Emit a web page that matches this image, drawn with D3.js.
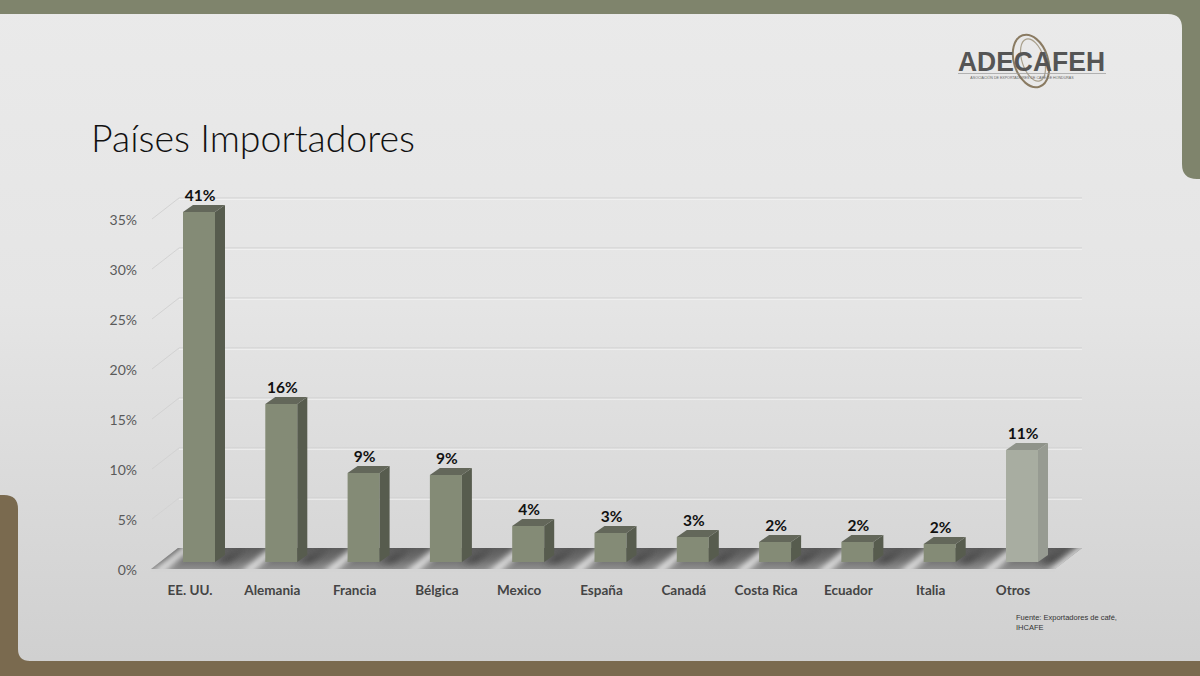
<!DOCTYPE html>
<html><head><meta charset="utf-8">
<script src="https://cdn.jsdelivr.net/npm/d3@7/dist/d3.min.js"></script>
<style>
html,body{margin:0;padding:0;background:#e6e6e6;}
svg{display:block;}
</style></head>
<body>
<svg id="c" width="1200" height="676"></svg>
<script>
const categories = ["EE. UU.","Alemania","Francia","Bélgica","Mexico","España","Canadá","Costa Rica","Ecuador","Italia","Otros"];
const values = [41, 15.8, 8.9, 8.7, 3.6, 2.9, 2.5, 2.0, 2.0, 1.8, 11.2];
const yTicks = [0, 5, 10, 15, 20, 25, 30, 35];
const titleText = "Países Importadores";
const sourceLines = ["Fuente: Exportadores de café,", "IHCAFE"];

const svg = d3.select("#c");
const defs = svg.append("defs");

// background
const bg = defs.append("linearGradient").attr("id","bg").attr("x1",0).attr("y1",0).attr("x2",0).attr("y2",1);
bg.append("stop").attr("offset","0%").attr("stop-color","#eaeaea");
bg.append("stop").attr("offset","45%").attr("stop-color","#e5e5e5");
bg.append("stop").attr("offset","100%").attr("stop-color","#cfcfcf");
svg.append("rect").attr("width",1200).attr("height",676).attr("fill","url(#bg)");

// olive band (top + right)
svg.append("path").attr("fill","#7f846c")
  .attr("d","M0,0 H1200 V179 H1197 Q1182,179 1182,164 V28 Q1182,14 1168,14 H0 Z");
// brown band (left + bottom)
svg.append("path").attr("fill","#7a6a4f")
  .attr("d","M0,495 H4 Q18,495 18,509 V649 Q18,661 30,661 H1200 V676 H0 Z");

// title
svg.append("text").attr("x",91).attr("y",152)
  .attr("font-family","Lato, 'Open Sans', sans-serif").attr("font-weight",300)
  .attr("font-size",37.5).attr("fill","#111").text(titleText);

// logo
const logo = svg.append("g");
logo.append("ellipse").attr("cx",1031).attr("cy",61).attr("rx",17).attr("ry",27)
  .attr("transform","rotate(-18,1031,61)").attr("fill","none").attr("stroke","#8a7b62").attr("stroke-width",2);
logo.append("ellipse").attr("cx",1033).attr("cy",60).attr("rx",11).attr("ry",22)
  .attr("transform","rotate(-18,1033,60)").attr("fill","none").attr("stroke","#a9a08c").attr("stroke-width",1.2);
logo.append("text").attr("x",958).attr("y",71).attr("textLength",147).attr("lengthAdjust","spacingAndGlyphs")
  .attr("font-family","'Liberation Sans', Arial, sans-serif").attr("font-weight",700)
  .attr("font-size",27).attr("fill","#555").text("ADECAFEH");
logo.append("line").attr("x1",958).attr("x2",1106).attr("y1",73.5).attr("y2",73.5).attr("stroke","#9a9a9a").attr("stroke-width",0.7);
logo.append("text").attr("x",1022).attr("y",78.5).attr("text-anchor","middle").attr("font-size",3.6)
  .attr("font-family","'Liberation Sans', sans-serif").attr("fill","#666")
  .text("ASOCIACIÓN DE EXPORTADORES DE CAFÉ DE HONDURAS");

// scales
const x = d3.scaleBand().domain(categories).range([148.85, 1054.15]).padding(0);
const y = d3.scaleLinear().domain([0, 35]).range([569, 219]);
const DX = 27, DY = -21;        // full depth (front plane -> back wall)
const bdx = 9, bdy = -7;        // bar front plane offset
const tdx = 10, tdy = -7;       // bar depth
const barW = 32;
const ymax = 35;

// grid on back wall
const grid = svg.append("g");
yTicks.filter(d => d > 0).forEach(t => {
  const yb = y(t) + DY;
  grid.append("line").attr("x1",152+DX).attr("x2",1082).attr("y1",yb+1).attr("y2",yb+1).attr("stroke","#fafafa").attr("stroke-width",1);
  grid.append("line").attr("x1",152+DX).attr("x2",1082).attr("y1",yb).attr("y2",yb).attr("stroke","#cfcfcf").attr("stroke-width",1);
  grid.append("line").attr("x1",152).attr("y1",y(t)).attr("x2",152+DX).attr("y2",yb).attr("stroke","#d2d2d2").attr("stroke-width",1);
});

// floor
const floorPts = [[151, y(0)], [1055, y(0)], [1055+DX, y(0)+DY], [151+DX, y(0)+DY]];
const floorPath = "M" + floorPts.map(p => p.join(",")).join("L") + "Z";
defs.append("clipPath").attr("id","floorClip").append("path").attr("d", floorPath);
const fg = defs.append("linearGradient").attr("id","floorG").attr("x1",0).attr("y1",0).attr("x2",0).attr("y2",1);
fg.append("stop").attr("offset","0%").attr("stop-color","#5c5c5c");
fg.append("stop").attr("offset","55%").attr("stop-color","#707070");
fg.append("stop").attr("offset","100%").attr("stop-color","#8e8e8e");
const blur = defs.append("filter").attr("id","blur").attr("x","-50%").attr("y","-50%").attr("width","200%").attr("height","200%");
blur.append("feGaussianBlur").attr("stdDeviation",3);
const floorG = svg.append("g");
floorG.append("path").attr("d", floorPath).attr("fill","url(#floorG)");
const fc = floorG.append("g").attr("clip-path","url(#floorClip)");
// bar shadows
categories.forEach((c, i) => {
  const fl = x(c) + x.bandwidth()/2 + bdx - barW/2;
  const p = [[fl + barW, y(0)+bdy+2], [fl + barW + 14, y(0)+bdy+2], [fl + barW + 14 + tdx + 8, y(0)+bdy+tdy-6], [fl + barW + tdx, y(0)+bdy+tdy]];
  fc.append("path").attr("d", "M" + p.map(q => q.join(",")).join("L") + "Z")
    .attr("fill","#333").attr("opacity",0.55).attr("filter","url(#blur)");
});
// light streaks between bars and at ends
const streakX = [x(categories[0]) + 8].concat(categories.slice(1).map(c => x(c) + 14)).concat([1052]);
streakX.forEach(sx => {
  const w = 5;
  const p = [[sx - w, y(0) + 4], [sx + w, y(0) + 4], [sx + w + DX + 8, y(0) + DY - 4], [sx - w + DX + 8, y(0) + DY - 4]];
  fc.append("path").attr("d", "M" + p.map(q => q.join(",")).join("L") + "Z")
    .attr("fill","#f6f6f6").attr("opacity",0.95).attr("filter","url(#blur)");
});
floorG.append("line").attr("x1",151).attr("x2",1055).attr("y1",y(0)+1.5).attr("y2",y(0)+1.5).attr("stroke","#d4d4d4").attr("stroke-width",2);

// bars
const bars = svg.append("g");
categories.forEach((c, i) => {
  const v = Math.min(values[i], ymax);
  const other = c === "Otros";
  const fl = x(c) + x.bandwidth()/2 + bdx - barW/2;
  const fr = fl + barW;
  const yt = y(v) + bdy;
  const yb = y(0) + bdy;
  const cFront = other ? "#a8ada1" : "#848b76";
  const cSide = other ? "#979b92" : "#575c4e";
  const cTop = other ? "#8f938a" : "#63675a";
  bars.append("rect").attr("x", fl).attr("y", yt).attr("width", barW).attr("height", yb - yt).attr("fill", cFront);
  bars.append("path").attr("fill", cSide)
    .attr("d", `M${fr},${yt} L${fr+tdx},${yt+tdy} L${fr+tdx},${yb+tdy} L${fr},${yb} Z`);
  bars.append("path").attr("fill", cTop)
    .attr("d", `M${fl},${yt} L${fr},${yt} L${fr+tdx},${yt+tdy} L${fl+tdx},${yt+tdy} Z`);
  bars.append("text").attr("x", (fl + fr)/2 + 1).attr("y", yt + tdy - 4)
    .attr("text-anchor","middle").attr("font-family","Lato, 'Open Sans', sans-serif")
    .attr("font-weight",700).attr("font-size",15.5).attr("fill","#111")
    .text(Math.round(values[i]) + "%");
});

// y axis
const yAxis = svg.append("g").attr("transform","translate(140,1)")
  .call(d3.axisLeft(y).tickValues(yTicks).tickFormat(d => d + "%").tickSize(0).tickPadding(3));
yAxis.select(".domain").remove();
yAxis.selectAll("text").attr("font-family","Lato, 'Open Sans', sans-serif").attr("font-size",14).attr("fill","#5a5a5a");

// x axis
const xAxis = svg.append("g").attr("transform","translate(0,582)")
  .call(d3.axisBottom(x).tickSize(0).tickPadding(3));
xAxis.select(".domain").remove();
xAxis.selectAll("text").attr("font-family","Lato, 'Open Sans', sans-serif").attr("font-weight",700)
  .attr("font-size",13.5).attr("fill","#444");

// source
const src = svg.append("text").attr("font-family","'Liberation Sans', Arial, sans-serif").attr("font-size",7.5).attr("fill","#333");
sourceLines.forEach((l, i) => src.append("tspan").attr("x",1016).attr("y",620 + i*10).text(l));
</script>
</body></html>
